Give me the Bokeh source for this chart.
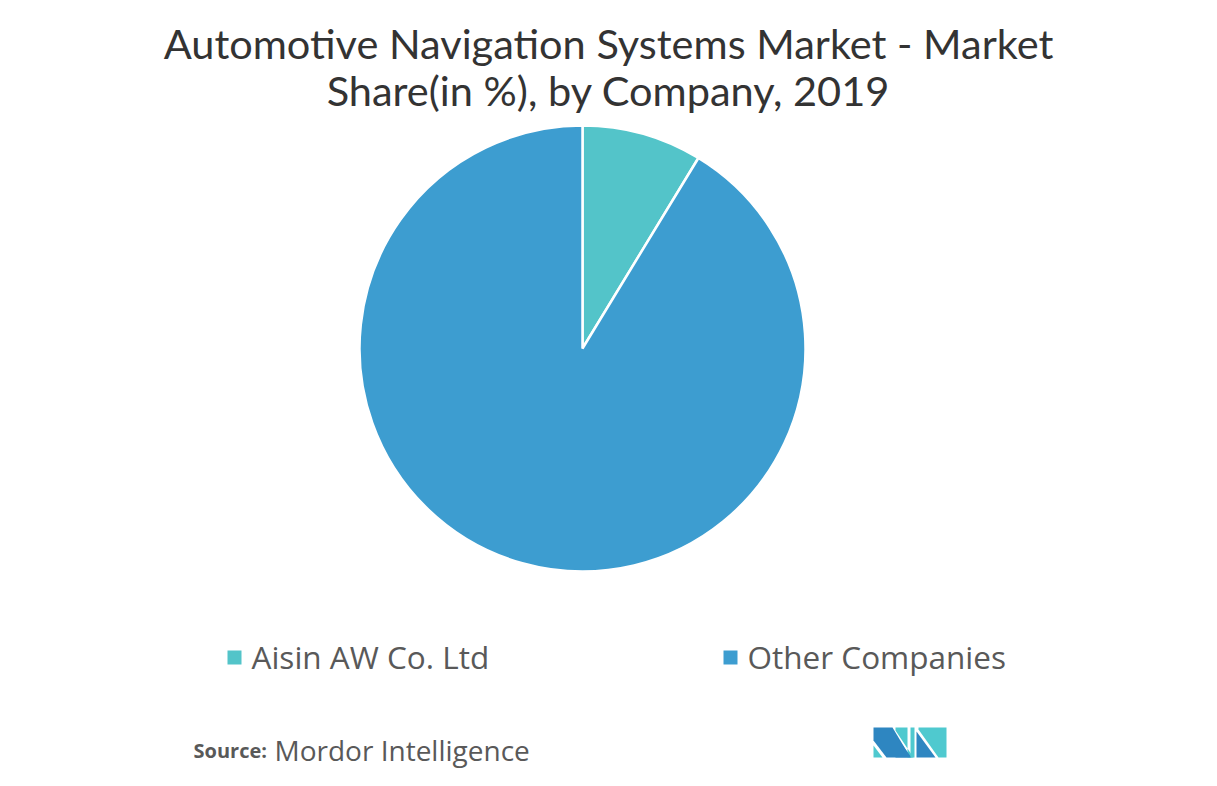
import math
from bokeh.plotting import figure
from bokeh.models import Range1d
from bokeh.core.properties import value
from bokeh.embed import file_html
from bokeh.resources import INLINE

# ---- data ----
companies = ["Aisin AW Co. Ltd", "Other Companies"]
shares = [8.7, 91.3]
colors = ["#53C4C9", "#3D9DD0"]
title_lines = ["Automotive Navigation Systems Market - Market", "Share(in %), by Company, 2019"]

PH = 786  # page height used for coordinate mapping
W, H = 1200, 768

def Y(py):
    return PH - py

p = figure(width=W, height=H, output_backend="svg", toolbar_location=None,
           x_range=Range1d(0, W), y_range=Range1d(PH - H, PH),
           min_border=0, outline_line_color=None)
p.axis.visible = False
p.grid.visible = False
p.background_fill_color = "white"
p.border_fill_color = "white"

TFONT = "Lato"
FONT = "Open Sans"

# title
for i, line in enumerate(title_lines):
    p.text(x=[608], y=[Y(42 + 47 * i)], text=[line], text_align="center", text_baseline="middle",
           text_font=value(TFONT), text_font_size="41.5px", text_color="#333333")

# pie
cx, cy, r = 582, Y(348), 223
total = sum(shares)
cum = 0.0
starts, ends = [], []
for s in shares:
    starts.append(math.pi / 2 - 2 * math.pi * cum / total)
    cum += s
    ends.append(math.pi / 2 - 2 * math.pi * cum / total)
p.wedge(x=[cx] * len(shares), y=[cy] * len(shares), radius=r, start_angle=starts, end_angle=ends,
        direction="clock", fill_color=colors, line_color="white", line_width=2.5)

# legend
leg_x = [234, 730]
for i, name in enumerate(companies):
    p.rect(x=[leg_x[i]], y=[Y(657)], width=14, height=14, fill_color=colors[i], line_color=None)
    p.text(x=[leg_x[i] + 17], y=[Y(656)], text=[name], text_align="left", text_baseline="middle",
           text_font=value(FONT), text_font_size="31.5px", text_color="#595959")

# source
p.text(x=[193], y=[Y(750)], text=["Source:"], text_align="left", text_baseline="middle",
       text_font=value(FONT), text_font_size="20px", text_font_style="bold", text_color="#595959")
p.text(x=[274], y=[Y(749)], text=["Mordor Intelligence"], text_align="left", text_baseline="middle",
       text_font=value(FONT), text_font_size="28px", text_color="#595959")

# logo (decorative)
dark, teal = "#2E86C1", "#4FC9CF"
lx, ly = 873, 727
def pts(lst):
    return [lx + a for a, b in lst], [Y(ly + b) for a, b in lst]
shapes = [
    ([(0, 0), (19, 0), (37, 30), (13, 30), (0, 13)], dark),
    ([(0, 18), (9, 30), (0, 30)], teal),
    ([(22, 0), (34, 0), (34, 30), (40, 30), (22, 3)], teal),
    ([(22, 8), (38, 30), (22, 30)], dark),
    ([(37, 0), (41, 0), (41, 30), (37, 30)], teal),
    ([(43, 4), (62, 30), (43, 30)], dark),
    ([(45, 0), (73, 0), (73, 30), (65, 30), (45, 2)], teal),
]
for s, c in shapes:
    xs, ys = pts(s)
    p.patch(xs, ys, fill_color=c, line_color=None)

open("out.html", "w").write(file_html(p, INLINE))
